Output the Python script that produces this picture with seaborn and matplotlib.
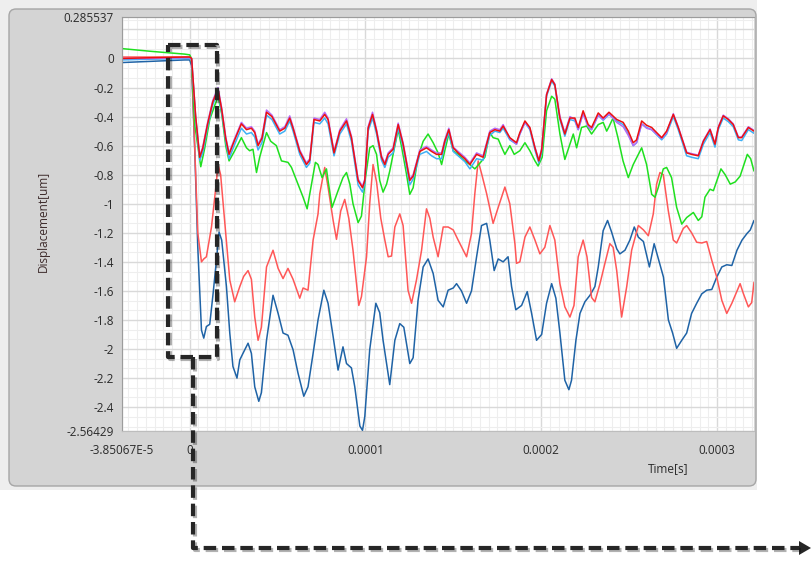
import numpy as np
import pandas as pd
import matplotlib
matplotlib.use("Agg")
import matplotlib.pyplot as plt
import matplotlib.patheffects as pe
from matplotlib.patches import FancyBboxPatch, Rectangle, Polygon
from matplotlib.ticker import MultipleLocator
import seaborn as sns

# ---------------------------------------------------------------- data
# time in microseconds, displacement in um

# three nearly coincident channels share one time base
t_cluster = [
    -38.5, -22.8, -2.8, 0.0, 1.1, 3.4, 5.7, 7.4, 10.2, 13.1,
    16.1, 18.2, 20.5, 22.4, 25.6, 29.4, 32.3, 35.1, 37.0, 38.9,
    41.1, 43.7, 46.8, 51.2, 54.1, 56.9, 58.8, 62.6, 66.4, 68.3,
    70.7, 74.0, 76.8, 78.7, 82.1, 85.4, 89.2, 92.0, 95.8, 98.3,
    99.6, 101.5, 104.0, 106.3, 109.1, 111.0, 112.9, 115.7, 118.6, 121.4,
    125.2, 127.1, 130.9, 134.7, 137.6, 140.4, 143.3, 145.1, 147.4, 149.9,
    152.7, 156.5, 159.4, 163.2, 166.9, 170.7, 173.6, 176.4, 178.3, 182.1,
    185.9, 187.8, 190.7, 193.5, 196.4, 198.6, 200.2, 203.0, 205.9, 207.7,
    210.6, 213.4, 216.3, 219.1, 221.0, 223.8, 226.7, 228.6, 232.4, 235.2,
    238.5, 242.9, 246.6, 249.5, 252.3, 254.2, 257.1, 259.9, 262.8, 265.6,
    268.5, 271.3, 275.1, 277.9, 282.7, 285.5, 289.3, 292.2, 296.0, 298.8,
    300.7, 303.5, 306.4, 309.2, 312.1, 314.0, 317.8, 321.0,
]
d_red = [
    0.00, 0.005, 0.01, 0.01, 0.00, -0.40, -0.68, -0.62, -0.45, -0.30,
    -0.21, -0.35, -0.55, -0.66, -0.56, -0.45, -0.49, -0.48, -0.51, -0.60,
    -0.55, -0.37, -0.40, -0.50, -0.48, -0.41, -0.48, -0.64, -0.73, -0.70,
    -0.42, -0.43, -0.385, -0.42, -0.65, -0.50, -0.43, -0.545, -0.84, -0.89,
    -0.84, -0.48, -0.385, -0.50, -0.68, -0.73, -0.66, -0.625, -0.455, -0.59,
    -0.84, -0.81, -0.64, -0.615, -0.64, -0.66, -0.66, -0.57, -0.49, -0.615,
    -0.65, -0.69, -0.73, -0.66, -0.68, -0.51, -0.49, -0.50, -0.465, -0.545,
    -0.58, -0.51, -0.43, -0.475, -0.615, -0.705, -0.63, -0.25, -0.145, -0.18,
    -0.41, -0.52, -0.41, -0.41, -0.475, -0.36, -0.455, -0.475, -0.375, -0.41,
    -0.37, -0.42, -0.44, -0.50, -0.58, -0.56, -0.43, -0.46, -0.475, -0.51,
    -0.545, -0.50, -0.385, -0.475, -0.65, -0.66, -0.67, -0.57, -0.49, -0.59,
    -0.475, -0.395, -0.42, -0.455, -0.545, -0.545, -0.475, -0.50,
]
d_purple = [
    0.00, 0.00, 0.005, 0.005, 0.00, -0.40, -0.67, -0.61, -0.44, -0.29,
    -0.20, -0.34, -0.54, -0.65, -0.55, -0.44, -0.48, -0.47, -0.50, -0.59,
    -0.54, -0.355, -0.39, -0.49, -0.47, -0.395, -0.47, -0.63, -0.72, -0.69,
    -0.41, -0.42, -0.37, -0.41, -0.64, -0.49, -0.415, -0.535, -0.83, -0.88,
    -0.83, -0.47, -0.37, -0.49, -0.67, -0.72, -0.65, -0.615, -0.445, -0.58,
    -0.83, -0.80, -0.63, -0.605, -0.63, -0.65, -0.65, -0.56, -0.48, -0.61,
    -0.64, -0.68, -0.72, -0.65, -0.67, -0.50, -0.48, -0.49, -0.455, -0.55,
    -0.59, -0.52, -0.44, -0.48, -0.61, -0.70, -0.62, -0.245, -0.14, -0.175,
    -0.40, -0.51, -0.40, -0.42, -0.49, -0.38, -0.47, -0.49, -0.39, -0.42,
    -0.38, -0.44, -0.47, -0.53, -0.60, -0.58, -0.45, -0.48, -0.49, -0.52,
    -0.55, -0.51, -0.38, -0.47, -0.645, -0.655, -0.665, -0.565, -0.485, -0.585,
    -0.47, -0.39, -0.415, -0.45, -0.54, -0.54, -0.47, -0.495,
]
d_lightblue = [
    -0.01, -0.005, 0.00, 0.00, -0.01, -0.42, -0.70, -0.65, -0.47, -0.32,
    -0.23, -0.37, -0.57, -0.69, -0.59, -0.48, -0.52, -0.51, -0.54, -0.63,
    -0.58, -0.39, -0.42, -0.52, -0.50, -0.43, -0.50, -0.66, -0.75, -0.72,
    -0.44, -0.45, -0.41, -0.45, -0.67, -0.52, -0.45, -0.57, -0.87, -0.92,
    -0.86, -0.50, -0.41, -0.52, -0.70, -0.75, -0.68, -0.65, -0.48, -0.61,
    -0.87, -0.83, -0.66, -0.64, -0.67, -0.69, -0.69, -0.59, -0.51, -0.64,
    -0.67, -0.71, -0.76, -0.69, -0.70, -0.53, -0.50, -0.51, -0.48, -0.56,
    -0.59, -0.52, -0.44, -0.49, -0.63, -0.72, -0.65, -0.26, -0.155, -0.19,
    -0.42, -0.535, -0.42, -0.43, -0.49, -0.375, -0.47, -0.49, -0.39, -0.425,
    -0.385, -0.43, -0.455, -0.52, -0.60, -0.58, -0.45, -0.475, -0.49, -0.525,
    -0.56, -0.52, -0.40, -0.49, -0.67, -0.68, -0.69, -0.59, -0.51, -0.61,
    -0.49, -0.41, -0.435, -0.47, -0.56, -0.565, -0.49, -0.515,
]

t_green = [
    -38.5, -22.8, -2.8, 0.0, 1.0, 2.8, 6.3, 8.5, 11.4, 16.1,
    18.2, 20.5, 22.4, 25.6, 29.4, 32.3, 34.1, 36.0, 38.0, 39.8,
    43.7, 46.1, 49.3, 52.2, 55.9, 57.9, 61.6, 64.5, 66.8, 69.3,
    71.5, 73.0, 75.3, 77.8, 78.7, 81.0, 84.4, 87.2, 89.2, 91.1,
    92.9, 95.8, 97.7, 100.0, 102.4, 104.3, 106.3, 108.1, 110.0, 112.0,
    113.8, 115.7, 118.6, 120.8, 123.3, 125.2, 127.1, 129.9, 132.8, 135.6,
    138.5, 141.3, 143.3, 145.1, 147.4, 149.9, 152.7, 156.5, 159.4, 162.2,
    165.1, 167.9, 170.7, 172.6, 175.5, 177.4, 179.3, 182.1, 184.6, 187.8,
    190.7, 193.5, 196.4, 198.2, 200.5, 203.0, 205.9, 207.7, 210.6, 213.4,
    216.3, 218.2, 220.1, 222.9, 225.8, 228.6, 232.4, 235.2, 237.2, 238.5,
    240.8, 243.6, 246.5, 249.5, 252.3, 257.1, 259.9, 262.8, 264.7, 266.5,
    269.4, 271.3, 274.1, 277.0, 279.9, 282.7, 286.5, 289.3, 291.3, 293.1,
    296.0, 297.9, 302.2, 304.6, 307.5, 310.3, 313.1, 317.2, 319.1, 321.0,
]
d_green = [
    0.068, 0.05, 0.03, 0.025, 0.0, -0.45, -0.745, -0.62, -0.42, -0.26,
    -0.38, -0.60, -0.705, -0.635, -0.545, -0.615, -0.635, -0.625, -0.785, -0.68,
    -0.51, -0.57, -0.60, -0.705, -0.715, -0.75, -0.865, -0.955, -1.035, -0.865,
    -0.715, -0.73, -0.82, -0.76, -0.84, -1.025, -0.91, -0.82, -0.785, -0.865,
    -1.0, -1.13, -1.085, -0.82, -0.615, -0.60, -0.66, -0.84, -0.92, -0.865,
    -0.775, -0.66, -0.49, -0.625, -0.795, -0.935, -0.89, -0.68, -0.57, -0.52,
    -0.58, -0.65, -0.73, -0.635, -0.52, -0.635, -0.66, -0.705, -0.73, -0.76,
    -0.72, -0.68, -0.51, -0.545, -0.555, -0.61, -0.66, -0.60, -0.66, -0.635,
    -0.58, -0.635, -0.705, -0.74, -0.68, -0.36, -0.26, -0.28, -0.52, -0.695,
    -0.59, -0.52, -0.615, -0.475, -0.465, -0.52, -0.455, -0.44, -0.50, -0.47,
    -0.41, -0.545, -0.705, -0.82, -0.73, -0.615, -0.73, -0.935, -0.955, -0.89,
    -0.76, -0.75, -0.82, -1.025, -1.14, -1.095, -1.06, -1.115, -1.09, -0.955,
    -0.90, -0.91, -0.76, -0.80, -0.865, -0.85, -0.81, -0.66, -0.69, -0.775,
]

t_lightred = [
    -38.5, -22.8, -2.8, 0.0, 1.1, 3.4, 4.6, 6.7, 8.0, 9.5,
    12.4, 15.2, 16.1, 17.6, 19.4, 21.8, 22.8, 25.6, 28.5, 30.7,
    33.2, 35.1, 37.0, 38.9, 40.8, 43.7, 47.4, 50.3, 53.1, 55.9,
    58.8, 62.6, 64.5, 67.3, 70.2, 73.0, 74.0, 76.8, 78.7, 81.6,
    83.5, 85.9, 88.2, 90.5, 92.9, 96.2, 97.7, 100.6, 102.4, 104.3,
    106.3, 108.7, 111.0, 112.9, 114.8, 116.7, 119.5, 121.4, 124.2, 126.2,
    129.0, 131.9, 134.7, 136.6, 138.5, 141.3, 144.2, 147.0, 149.9, 152.7,
    154.8, 157.5, 160.3, 162.2, 164.1, 166.2, 168.9, 172.6, 175.5, 179.3,
    182.1, 185.0, 185.9, 187.8, 190.7, 193.5, 196.4, 199.2, 202.0, 204.9,
    207.7, 210.6, 213.4, 216.3, 218.6, 221.0, 223.8, 226.0, 228.6, 230.5,
    233.4, 236.2, 239.0, 240.9, 242.9, 245.7, 248.6, 251.4, 255.2, 258.1,
    260.9, 263.7, 265.6, 267.5, 269.4, 272.2, 275.1, 277.0, 280.8, 282.7,
    285.5, 288.4, 291.3, 294.1, 297.0, 299.8, 302.7, 305.5, 308.4, 310.3,
    313.1, 315.0, 317.8, 319.7, 321.0,
]
d_lightred = [
    0.01, 0.01, 0.01, 0.01, -0.02, -0.80, -1.20, -1.40, -1.38, -1.365,
    -1.16, -0.85, -0.73, -0.80, -1.05, -1.39, -1.525, -1.675, -1.57, -1.50,
    -1.46, -1.52, -1.78, -1.94, -1.85, -1.435, -1.32, -1.445, -1.515, -1.445,
    -1.52, -1.65, -1.58, -1.595, -1.25, -1.07, -0.93, -0.75, -0.885, -1.115,
    -1.245, -1.05, -0.97, -1.10, -1.32, -1.70, -1.64, -1.365, -1.0, -0.73,
    -0.85, -1.10, -1.25, -1.365, -1.36, -1.16, -1.07, -1.15, -1.595, -1.685,
    -1.525, -1.32, -1.035, -1.10, -1.23, -1.365, -1.16, -1.16, -1.18, -1.25,
    -1.30, -1.365, -1.205, -0.93, -0.705, -0.80, -0.93, -1.135, -1.025, -0.885,
    -1.0, -1.275, -1.41, -1.40, -1.23, -1.16, -1.25, -1.345, -1.30, -1.15,
    -1.25, -1.55, -1.71, -1.78, -1.70, -1.365, -1.25, -1.365, -1.645, -1.675,
    -1.55, -1.41, -1.275, -1.30, -1.46, -1.78, -1.57, -1.32, -1.15, -1.18,
    -1.22, -1.07, -0.865, -0.785, -0.80, -1.045, -1.25, -1.27, -1.17, -1.15,
    -1.20, -1.265, -1.27, -1.26, -1.39, -1.505, -1.665, -1.755, -1.685, -1.63,
    -1.55, -1.62, -1.71, -1.68, -1.54,
]

t_darkblue = [
    -38.5, -22.8, -2.8, 0.0, 1.1, 2.8, 4.6, 6.7, 8.0, 9.5,
    11.4, 13.3, 15.2, 16.7, 18.2, 20.9, 22.8, 24.6, 26.9, 28.5,
    30.3, 33.2, 35.1, 37.0, 39.3, 40.8, 43.7, 47.4, 50.3, 53.1,
    55.9, 58.8, 61.6, 64.9, 67.3, 70.2, 73.0, 76.3, 78.7, 81.6,
    84.4, 87.2, 89.2, 92.0, 93.9, 96.8, 98.3, 99.6, 102.4, 105.9,
    108.1, 110.0, 113.8, 116.7, 119.5, 121.8, 125.2, 127.1, 129.9, 132.8,
    135.6, 138.5, 141.3, 144.2, 147.0, 149.9, 151.8, 154.6, 157.5, 160.3,
    163.2, 166.0, 168.9, 170.7, 173.2, 175.5, 178.3, 181.1, 183.1, 185.5,
    188.8, 192.0, 194.5, 197.3, 200.2, 203.0, 205.9, 208.3, 210.6, 213.4,
    215.7, 217.2, 219.7, 222.0, 224.8, 227.7, 230.5, 232.4, 235.2, 237.7,
    240.0, 242.9, 244.7, 247.6, 250.4, 252.9, 255.2, 258.1, 261.5, 264.2,
    266.6, 269.5, 272.3, 274.7, 277.0, 279.9, 282.7, 285.5, 288.4, 291.3,
    294.1, 297.0, 299.8, 302.7, 305.5, 308.4, 311.3, 314.2, 317.0, 318.9,
    321.0,
]
d_darkblue = [
    -0.028, -0.02, -0.01, -0.01, -0.05, -0.60, -1.30, -1.87, -1.925, -1.845,
    -1.83, -1.62, -1.39, -1.195, -1.25, -1.57, -1.89, -2.12, -2.20, -2.075,
    -2.03, -1.96, -2.03, -2.26, -2.36, -2.30, -1.94, -1.63, -1.755, -1.89,
    -1.905, -2.005, -2.165, -2.325, -2.26, -2.03, -1.80, -1.595, -1.685, -1.915,
    -2.145, -1.985, -2.10, -2.13, -2.26, -2.53, -2.56, -2.465, -2.005, -1.685,
    -1.75, -1.94, -2.245, -1.94, -1.825, -1.85, -2.10, -2.06, -1.665, -1.435,
    -1.38, -1.48, -1.665, -1.71, -1.595, -1.58, -1.55, -1.60, -1.685, -1.60,
    -1.365, -1.15, -1.135, -1.25, -1.46, -1.38, -1.40, -1.365, -1.57, -1.73,
    -1.70, -1.605, -1.755, -1.94, -1.90, -1.685, -1.55, -1.65, -1.89, -2.215,
    -2.28, -2.215, -1.94, -1.755, -1.675, -1.63, -1.57, -1.435, -1.185, -1.115,
    -1.195, -1.31, -1.345, -1.32, -1.25, -1.16, -1.23, -1.26, -1.435, -1.275,
    -1.38, -1.505, -1.80, -1.89, -1.995, -1.94, -1.89, -1.755, -1.685, -1.62,
    -1.595, -1.59, -1.505, -1.435, -1.42, -1.425, -1.32, -1.25, -1.205, -1.18,
    -1.115,
]

channels = ["CH6", "CH5", "CH4", "CH3", "CH2", "CH1"]
channel_colors = ["#1f63a6", "#ff5757", "#1fe01f", "#3fb0f5", "#b86cf5", "#ec1010"]

x_ticks = [-3.85067e-5, 0.0, 1e-4, 2e-4, 3e-4]
x_tick_labels = ["-3.85067E-5", "0", "0.0001", "0.0002", "0.0003"]
y_ticks = [0.285537, 0.2, 0.0, -0.2, -0.4, -0.6, -0.8, -1.0, -1.2, -1.4,
           -1.6, -1.8, -2.0, -2.2, -2.4, -2.56429]
y_tick_labels = ["0.285537", "", "0", "-0.2", "-0.4", "-0.6", "-0.8", "-1", "-1.2",
                 "-1.4", "-1.6", "-1.8", "-2", "-2.2", "-2.4", "-2.56429"]

# ---------------------------------------------------------------- frame
series = {
    "CH1": (t_cluster, d_red),
    "CH2": (t_cluster, d_purple),
    "CH3": (t_cluster, d_lightblue),
    "CH4": (t_green, d_green),
    "CH5": (t_lightred, d_lightred),
    "CH6": (t_darkblue, d_darkblue),
}
frames = []
for name, (t_us, d_um) in series.items():
    frames.append(pd.DataFrame({
        "time_s": np.asarray(t_us) * 1e-6,
        "disp_um": np.asarray(d_um),
        "channel": name,
    }))
df = pd.concat(frames, ignore_index=True)

# ---------------------------------------------------------------- figure
sns.set_style("white")
plt.rcParams["font.family"] = ["Open Sans", "DejaVu Sans"]

W, H = 811, 561
fig = plt.figure(figsize=(W / 100, H / 100), dpi=100, facecolor="white")

# instrument panel behind the graph
bg = fig.add_axes([0, 0, 1, 1], zorder=0)
bg.set_xlim(0, W)
bg.set_ylim(H, 0)
bg.axis("off")
bg.add_patch(Rectangle((0, 0), 757, 490, fc="#eeeeee", ec="none"))
bg.add_patch(FancyBboxPatch((9, 9), 747, 477,
                            boxstyle="round,pad=0,rounding_size=7",
                            fc="#d4d4d4", ec="#a6a6a6", lw=1.0))

ax = fig.add_axes([122 / W, (H - 431) / H, 632 / W, 414 / H], zorder=1)
ax.set_facecolor("white")

sns.lineplot(data=df, x="time_s", y="disp_um", hue="channel",
             hue_order=channels, palette=channel_colors,
             estimator=None, sort=False, legend=False, lw=1.1, ax=ax)

ax.set_xlim(-3.85067e-5, 3.21e-4)
ax.set_ylim(-2.56429, 0.285537)
ax.set_xticks(x_ticks, x_tick_labels)
ax.set_yticks(y_ticks, y_tick_labels)
ax.xaxis.set_minor_locator(MultipleLocator(5e-6))
ax.yaxis.set_minor_locator(MultipleLocator(0.2 / 3))
ax.grid(which="minor", color="#eeeeee", lw=0.8)
ax.grid(which="major", color="#d9d9d9", lw=1.0)
ax.set_axisbelow(True)

ax.tick_params(which="major", direction="out", length=4, width=0.8,
               color="#444444", labelsize=8.5, labelcolor="#2a2a2a")
ax.tick_params(axis="y", pad=2)
ax.tick_params(axis="x", pad=5)
ax.tick_params(which="minor", length=0)
for side in ("left", "top"):
    ax.spines[side].set_color("#9c9c9c")
    ax.spines[side].set_linewidth(0.8)
ax.spines["bottom"].set_color("#bdbdbd")
ax.spines["right"].set_visible(False)

ax.set_xlabel("Time[s]", fontsize=8.5, color="#2a2a2a")
ax.xaxis.set_label_coords((668 - 122) / 632, -0.075)
ax.set_ylabel("")
fig.text(43 / W, 1 - 221 / H, "Displacement[um]", rotation=90,
         ha="center", va="center", fontsize=8.5, color="#3d2b2b")

# dashed zoom marker with its leader arrow
ov = fig.add_axes([0, 0, 1, 1], zorder=5)
ov.set_xlim(0, W)
ov.set_ylim(H, 0)
ov.axis("off")
ov.patch.set_alpha(0)
shadow = [pe.SimpleLineShadow(offset=(1.2, -1.2), shadow_color="black", alpha=0.3),
          pe.Normal()]
dash_kw = dict(color="#262626", lw=3.0, dashes=(3, 1.4), solid_capstyle="butt",
               path_effects=shadow)
ov.plot([168, 216.5, 216.5, 168, 168], [45, 45, 357, 357, 45], **dash_kw)
ov.plot([193, 193, 799], [357, 548, 548], **dash_kw)
ov.add_patch(Polygon([[799, 541], [811, 548], [799, 555]], closed=True,
                     fc="#262626", ec="none"))

fig.savefig("out.png", dpi=100, facecolor="white")
